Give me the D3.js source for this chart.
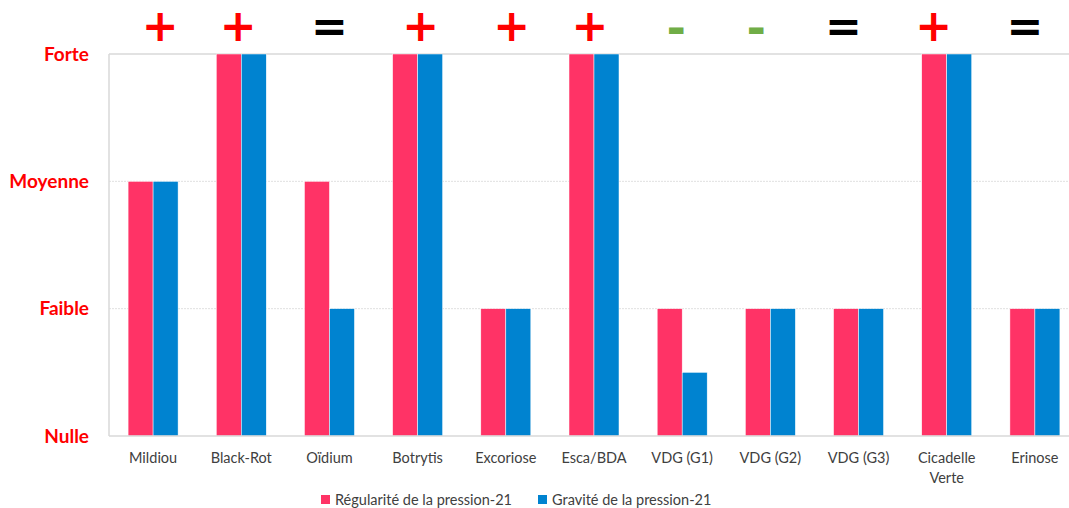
<!DOCTYPE html>
<html>
<head>
<meta charset="utf-8">
<script src="https://cdn.jsdelivr.net/npm/d3@7"></script>
<style>
  body { margin: 0; background: #fff; overflow: hidden; }
  svg { display: block; font-family: Lato, "Open Sans", sans-serif; }
</style>
</head>
<body>
<div id="chart"></div>
<script>
const categories = ["Mildiou", "Black-Rot", "Oïdium", "Botrytis", "Excoriose", "Esca/BDA",
  "VDG (G1)", "VDG (G2)", "VDG (G3)", "Cicadelle Verte", "Erinose"];
const regularite = [2, 3, 2, 3, 1, 3, 1, 1, 1, 3, 1];
const gravite = [2, 3, 1, 3, 1, 3, 0.5, 1, 1, 3, 1];
const trends = ["+", "+", "=", "+", "+", "+", "-", "-", "=", "+", "="];
const levelLabels = ["Nulle", "Faible", "Moyenne", "Forte"];
const seriesNames = ["Régularité de la pression-21", "Gravité de la pression-21"];

// the signs were placed by hand above the bars, not exactly centred
const trendNudge = [7, -3, 0, 3, 6, -4, -6, -14, -15, -13, -10];

const COLORS = ["#FF3366", "#0083D0"];
const TREND_COLORS = { "+": "#FF0000", "=": "#000000", "-": "#70AD47" };

const W = 1069, H = 508;
const margin = { top: 54, left: 109 };
const width = 970; // plot runs a bit past the right edge of the window
const height = 382;

const svg = d3.select("#chart").append("svg")
  .attr("width", W)
  .attr("height", H);

const g = svg.append("g")
  .attr("transform", `translate(${margin.left},${margin.top})`);

const x = d3.scaleBand().domain(categories).range([0, width]);
const x1 = d3.scaleBand().domain([0, 1]).range([x.bandwidth() * 0.2165, x.bandwidth() * 0.7835]);
const y = d3.scaleLinear().domain([0, 3]).range([height, 0]);

// gridlines
g.selectAll("line.grid")
  .data([1, 2])
  .enter().append("line")
  .attr("x1", 0).attr("x2", width)
  .attr("y1", d => y(d)).attr("y2", d => y(d))
  .attr("stroke", "#e0e0e0")
  .attr("stroke-dasharray", "2,1");

g.append("line")
  .attr("x1", 0).attr("x2", width)
  .attr("y1", y(3)).attr("y2", y(3))
  .attr("stroke", "#d9d9d9").attr("stroke-width", 1.5);

g.append("line")
  .attr("x1", 0).attr("x2", 0)
  .attr("y1", y(3)).attr("y2", y(0))
  .attr("stroke", "#d9d9d9").attr("stroke-width", 1.5);

// bars
const groups = g.selectAll("g.cat")
  .data(categories)
  .enter().append("g")
  .attr("transform", d => `translate(${x(d)},0)`);

groups.selectAll("rect")
  .data((d, i) => [regularite[i], gravite[i]])
  .enter().append("rect")
  .attr("x", (d, j) => x1(j))
  .attr("width", x1.bandwidth())
  .attr("y", d => y(d))
  .attr("height", d => y(0) - y(d))
  .attr("fill", (d, j) => COLORS[j])
  .attr("stroke", "#ffffff")
  .attr("stroke-width", 0.5);

g.append("line")
  .attr("x1", 0).attr("x2", width)
  .attr("y1", y(0)).attr("y2", y(0))
  .attr("stroke", "#d9d9d9").attr("stroke-width", 1.5);

// y labels
g.selectAll("text.level")
  .data(levelLabels)
  .enter().append("text")
  .attr("x", -20)
  .attr("y", (d, i) => y(i))
  .attr("dy", "0.35em")
  .attr("text-anchor", "end")
  .attr("fill", "#FF0000")
  .attr("font-size", "19px")
  .attr("font-weight", "bold")
  .text(d => d);

// category labels
groups.append("text")
  .attr("x", x.bandwidth() / 2)
  .attr("y", height + 27)
  .attr("text-anchor", "middle")
  .attr("fill", "#404040")
  .attr("font-size", "14.5px")
  .each(function(d) {
    const words = d === "Cicadelle Verte" ? ["Cicadelle", "Verte"] : [d];
    d3.select(this).selectAll("tspan")
      .data(words)
      .enter().append("tspan")
      .attr("x", x.bandwidth() / 2)
      .attr("dy", (w, k) => k === 0 ? 0 : "1.35em")
      .text(w => w);
  });

// trend signs
groups.append("text")
  .attr("x", (d, i) => x.bandwidth() / 2 + trendNudge[i])
  .attr("y", (d, i) => trends[i] === "-" ? -10 : -13)
  .attr("text-anchor", "middle")
  .attr("fill", (d, i) => TREND_COLORS[trends[i]])
  .attr("font-size", (d, i) => trends[i] === "-" ? "47px" : "44px")
  .attr("font-weight", 900)
  .attr("font-family", "'DejaVu Sans', sans-serif")
  .text((d, i) => trends[i]);

// legend
const legend = svg.append("g").attr("transform", "translate(321,500)");
const legendX = [0, 217];
seriesNames.forEach((name, i) => {
  const lg = legend.append("g").attr("transform", `translate(${legendX[i]},0)`);
  lg.append("rect")
    .attr("x", 0).attr("y", -5)
    .attr("width", 9).attr("height", 9)
    .attr("fill", COLORS[i]);
  lg.append("text")
    .attr("x", 14).attr("y", 0)
    .attr("dy", "0.35em")
    .attr("font-size", "14.5px")
    .attr("fill", "#404040")
    .text(name);
});
</script>
</body>
</html>
